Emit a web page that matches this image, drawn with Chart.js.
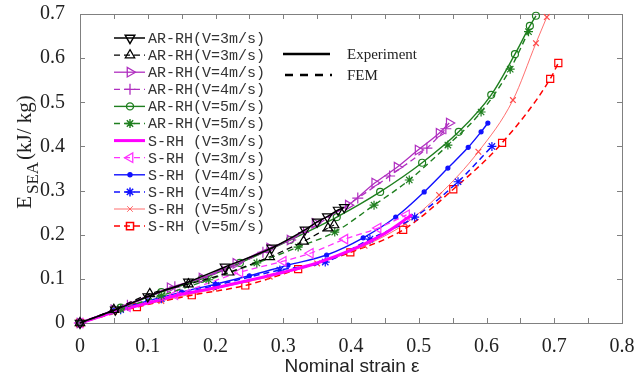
<!DOCTYPE html>
<html>
<head>
<meta charset="utf-8">
<script src="https://cdn.jsdelivr.net/npm/chart.js@4/dist/chart.umd.min.js"></script>
<style>
  html, body { margin: 0; padding: 0; background: #fff; }
</style>
</head>
<body>
<canvas id="chart" width="634" height="383"></canvas>
<script>
// values
const arRh3ExpX = [0, 0.052, 0.1, 0.16, 0.214, 0.283, 0.332, 0.35, 0.365, 0.381, 0.39];
const arRh3ExpY = [0, 0.03, 0.06, 0.093, 0.127, 0.17, 0.211, 0.229, 0.241, 0.256, 0.262];
const arRh3FemX = [0, 0.05, 0.103, 0.16, 0.22, 0.28, 0.33, 0.366, 0.375];
const arRh3FemY = [0, 0.03, 0.066, 0.088, 0.115, 0.15, 0.185, 0.215, 0.222];
const arRh4ExpX = [0, 0.05, 0.133, 0.18, 0.23, 0.28, 0.31, 0.347, 0.396, 0.435, 0.468, 0.499, 0.53, 0.545];
const arRh4ExpY = [0, 0.03, 0.08, 0.102, 0.135, 0.17, 0.188, 0.226, 0.267, 0.317, 0.353, 0.392, 0.43, 0.453];
const arRh4FemX = [0, 0.07, 0.14, 0.21, 0.27, 0.33, 0.41, 0.457, 0.512, 0.54];
const arRh4FemY = [0, 0.04, 0.082, 0.118, 0.16, 0.205, 0.283, 0.333, 0.396, 0.44];
const arRh5ExpX = [0, 0.06, 0.12, 0.18, 0.236, 0.31, 0.379, 0.443, 0.505, 0.559, 0.607, 0.642, 0.664, 0.673];
const arRh5ExpY = [0, 0.035, 0.07, 0.1, 0.136, 0.188, 0.24, 0.297, 0.363, 0.433, 0.517, 0.609, 0.673, 0.696];
const arRh5FemX = [0, 0.06, 0.12, 0.19, 0.261, 0.322, 0.376, 0.434, 0.486, 0.543, 0.592, 0.635, 0.662];
const arRh5FemY = [0, 0.032, 0.062, 0.098, 0.136, 0.172, 0.206, 0.267, 0.324, 0.403, 0.478, 0.575, 0.66];
const sRh3ExpX = [0, 0.05, 0.1, 0.15, 0.2, 0.25, 0.3, 0.35, 0.4, 0.45, 0.49];
const sRh3ExpY = [0, 0.025, 0.045, 0.065, 0.08, 0.097, 0.115, 0.136, 0.165, 0.203, 0.245];
const sRh3FemX = [0, 0.07, 0.14, 0.236, 0.3, 0.34, 0.391, 0.44, 0.482];
const sRh3FemY = [0, 0.037, 0.064, 0.115, 0.14, 0.158, 0.19, 0.215, 0.245];
const sRh4ExpX = [0, 0.05, 0.1, 0.15, 0.2, 0.25, 0.307, 0.364, 0.418, 0.466, 0.508, 0.543, 0.573, 0.592, 0.602];
const sRh4ExpY = [0, 0.028, 0.05, 0.07, 0.088, 0.107, 0.131, 0.154, 0.193, 0.24, 0.297, 0.351, 0.398, 0.433, 0.453];
const sRh4FemX = [0, 0.06, 0.12, 0.2, 0.295, 0.362, 0.428, 0.494, 0.558, 0.608];
const sRh4FemY = [0, 0.03, 0.055, 0.085, 0.12, 0.138, 0.19, 0.24, 0.32, 0.4];
const sRh5ExpX = [0, 0.05, 0.12, 0.2, 0.28, 0.35, 0.42, 0.48, 0.53, 0.588, 0.639, 0.673, 0.689];
const sRh5ExpY = [0, 0.025, 0.05, 0.078, 0.105, 0.135, 0.175, 0.225, 0.29, 0.388, 0.505, 0.634, 0.693];
const sRh5FemX = [0, 0.084, 0.165, 0.244, 0.322, 0.399, 0.477, 0.551, 0.623, 0.694, 0.706];
const sRh5FemY = [0, 0.036, 0.063, 0.085, 0.122, 0.16, 0.211, 0.303, 0.408, 0.553, 0.589];

const seriesLabels = [
  'AR-RH(V=3m/s)', 'AR-RH(V=3m/s)', 'AR-RH(V=4m/s)', 'AR-RH(V=4m/s)',
  'AR-RH(V=5m/s)', 'AR-RH(V=5m/s)', 'S-RH (V=3m/s)', 'S-RH (V=3m/s)',
  'S-RH (V=4m/s)', 'S-RH (V=4m/s)', 'S-RH (V=5m/s)', 'S-RH (V=5m/s)'
];
const xTickLabels = ['0', '0.1', '0.2', '0.3', '0.4', '0.5', '0.6', '0.7', '0.8'];
const yTickLabels = ['0', '0.1', '0.2', '0.3', '0.4', '0.5', '0.6', '0.7'];

const pts = (xs, ys) => xs.map((x, i) => ({ x: x, y: ys[i] }));
const DASH = [6, 4];

function series(label, xs, ys, color, width, dashed, style, radius, rotation, fill) {
  return {
    label: label,
    data: pts(xs, ys),
    showLine: true,
    borderColor: color,
    borderWidth: width,
    borderDash: dashed ? DASH : [],
    cubicInterpolationMode: 'monotone',
    pointStyle: style,
    pointRadius: radius,
    pointRotation: rotation,
    pointBorderColor: color,
    pointBorderWidth: 1.2,
    pointBackgroundColor: fill ? color : 'rgba(0,0,0,0)',
    clip: 10
  };
}

const datasets = [
  series(seriesLabels[0], arRh3ExpX, arRh3ExpY, '#000000', 1.5, false, 'triangle', 5.5, 180),
  series(seriesLabels[1], arRh3FemX, arRh3FemY, '#000000', 1.2, true, 'triangle', 5.5, 0),
  series(seriesLabels[2], arRh4ExpX, arRh4ExpY, '#b02fc0', 1.3, false, 'triangle', 5.5, 90),
  series(seriesLabels[3], arRh4FemX, arRh4FemY, '#b02fc0', 1.3, true, 'cross', 5.5, 0),
  series(seriesLabels[4], arRh5ExpX, arRh5ExpY, '#1f7f1f', 1.4, false, 'circle', 3.5, 0),
  series(seriesLabels[5], arRh5FemX, arRh5FemY, '#1f7f1f', 1.4, true, 'star', 4.5, 0),
  series(seriesLabels[6], sRh3ExpX, sRh3ExpY, '#ff00ff', 3, false, 'circle', 0, 0),
  series(seriesLabels[7], sRh3FemX, sRh3FemY, '#ff33ff', 1.3, true, 'triangle', 5.5, 270),
  series(seriesLabels[8], sRh4ExpX, sRh4ExpY, '#1010ff', 1.4, false, 'circle', 2, 0, true),
  series(seriesLabels[9], sRh4FemX, sRh4FemY, '#1010ff', 1.5, true, 'star', 4.5, 0),
  series(seriesLabels[10], sRh5ExpX, sRh5ExpY, '#ff4a4a', 0.8, false, 'crossRot', 4, 0),
  series(seriesLabels[11], sRh5FemX, sRh5FemY, '#ff0000', 1.5, true, 'rect', 5, 0)
];

// box round the plot with inward ticks on all sides
const framePlugin = {
  id: 'frame',
  beforeDatasetsDraw(chart) {
    const { ctx, chartArea: a, scales: { x, y } } = chart;
    ctx.save();
    ctx.strokeStyle = '#808080';
    ctx.lineWidth = 1;
    ctx.strokeRect(a.left + 0.5, a.top + 0.5, a.right - a.left, a.bottom - a.top);
    ctx.beginPath();
    for (let k = 0; k <= 16; k++) {
      const px = Math.round(x.getPixelForValue(k * 0.05)) + 0.5;
      ctx.moveTo(px, a.bottom); ctx.lineTo(px, a.bottom - 5);
      ctx.moveTo(px, a.top); ctx.lineTo(px, a.top + 5);
    }
    for (let k = 0; k <= 7; k++) {
      const py = Math.round(y.getPixelForValue(k * 0.1)) + 0.5;
      ctx.moveTo(a.left, py); ctx.lineTo(a.left + 5, py);
      ctx.moveTo(a.right, py); ctx.lineTo(a.right - 5, py);
    }
    ctx.stroke();
    ctx.restore();
  }
};

// axis titles (y title has a subscript)
const titlePlugin = {
  id: 'titles',
  afterDraw(chart) {
    const ctx = chart.ctx;
    ctx.save();
    ctx.fillStyle = '#222';
    ctx.textBaseline = 'middle';
    ctx.font = '19px "Liberation Sans", Arial, sans-serif';
    ctx.textAlign = 'center';
    ctx.fillText('Nominal strain \u03b5', 352, 367);

    ctx.translate(27, 152);
    ctx.rotate(-Math.PI / 2);
    ctx.textAlign = 'left';
    const big = '21px "Liberation Serif", "Times New Roman", serif';
    const small = '17px "Liberation Serif", "Times New Roman", serif';
    ctx.font = big; const wE = ctx.measureText('E').width;
    const wU = ctx.measureText('(kJ/ kg)').width;
    ctx.font = small; const wS = ctx.measureText('SEA').width;
    let x0 = -(wE + wS + wU + 4) / 2;
    ctx.font = big; ctx.fillText('E', x0, -2);
    ctx.font = small; ctx.fillText('SEA', x0 + wE + 2, 7);
    ctx.font = big; ctx.fillText('(kJ/ kg)', x0 + wE + wS + 4, -2);
    ctx.restore();
  }
};

// MATLAB-style legends: series key at top left, Experiment/FEM key in the middle
const legendPlugin = {
  id: 'keys',
  afterDraw(chart) {
    const ctx = chart.ctx;
    ctx.save();
    chart.data.datasets.forEach((ds, i) => {
      const y = 38 + i * 17.1;
      ctx.strokeStyle = ds.borderColor;
      ctx.lineWidth = ds.borderWidth;
      ctx.setLineDash(ds.borderDash);
      ctx.beginPath(); ctx.moveTo(114, y); ctx.lineTo(145, y); ctx.stroke();
      ctx.setLineDash([]);
      if (ds.pointRadius > 0) {
        ctx.fillStyle = ds.pointBackgroundColor;
        Chart.helpers.drawPoint(ctx, {
          pointStyle: ds.pointStyle, radius: ds.pointRadius, rotation: ds.pointRotation,
          borderWidth: ds.pointBorderWidth
        }, 130, y);
      }
      ctx.fillStyle = '#333';
      ctx.font = '15px "Liberation Mono", "Courier New", monospace';
      ctx.textBaseline = 'middle';
      ctx.fillText(ds.label, 148, y + 1);
    });

    ctx.strokeStyle = '#000';
    ctx.lineWidth = 2.5;
    ctx.beginPath(); ctx.moveTo(283, 54); ctx.lineTo(330, 54); ctx.stroke();
    ctx.setLineDash([8, 7]);
    ctx.beginPath(); ctx.moveTo(285, 75); ctx.lineTo(332, 75); ctx.stroke();
    ctx.setLineDash([]);
    ctx.fillStyle = '#222';
    ctx.font = '15px "Liberation Serif", "Times New Roman", serif';
    ctx.textBaseline = 'middle';
    ctx.fillText('Experiment', 347, 55);
    ctx.fillText('FEM', 347, 76);
    ctx.restore();
  }
};

new Chart(document.getElementById('chart'), {
  type: 'scatter',
  data: { datasets: datasets },
  options: {
    responsive: false,
    animation: false,
    devicePixelRatio: 1,
    layout: { padding: { top: 14, right: 12, left: 0, bottom: 0 } },
    plugins: { legend: { display: false }, tooltip: { enabled: false } },
    scales: {
      x: {
        type: 'linear', min: 0, max: 0.8,
        grid: { display: false }, border: { display: false },
        ticks: {
          stepSize: 0.1, padding: 4, maxRotation: 0, autoSkip: false, color: '#222',
          font: { family: '"Liberation Serif", "Times New Roman", serif', size: 20 },
          callback: (v, i) => xTickLabels[i]
        },
        afterFit(s) { s.height = 60; s.paddingLeft = 0; s.paddingRight = 0; }
      },
      y: {
        type: 'linear', min: 0, max: 0.7,
        grid: { display: false }, border: { display: false },
        ticks: {
          stepSize: 0.1, padding: 7, autoSkip: false, color: '#222',
          font: { family: '"Liberation Serif", "Times New Roman", serif', size: 20 },
          callback: (v, i) => yTickLabels[i]
        },
        afterFit(s) { s.width = 80; s.paddingTop = 0; s.paddingBottom = 0; }
      }
    }
  },
  plugins: [framePlugin, legendPlugin, titlePlugin]
});
</script>
</body>
</html>
